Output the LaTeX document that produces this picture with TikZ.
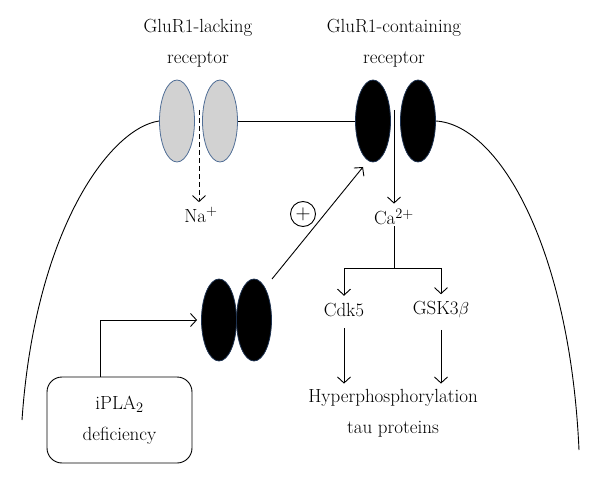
\documentclass[tikz,border=0pt]{standalone}
\usepackage{fontspec}
\usepackage{amsmath}
\usetikzlibrary{positioning, shapes.geometric, arrows.meta}

\begin{document}
\begin{tikzpicture}[x=1pt, y=-1pt, line width=0.9pt,
        lacking/.style={ellipse, draw={rgb,255:red,80;green,110;blue,150}, fill=gray!35, line width=0.8pt, inner sep=0mm, minimum width=35pt, minimum height=82pt},
        containing/.style={ellipse, draw={rgb,255:red,30;green,50;blue,80}, fill=black, line width=0.8pt, inner sep=0mm, minimum width=35pt, minimum height=82pt},
        txt/.style={font=\fontsize{19}{31}\selectfont, align=center, inner sep=1pt},
        arr/.style={-{Straight Barb[length=6pt, width=13pt]}}]
        \useasboundingbox (0,0) rectangle (600,484);
        % receptors on the membrane
        \node (lack1) [lacking] at (177,121) {};
        \node (lack2) [lacking] at (220,121) {};
        \node (cont1) [containing] at (373,121) {};
        \node (cont2) [containing] at (418,121) {};
        \node (pair1) [containing] at (219,320) {};
        \node (pair2) [containing] at (254,320) {};
        % labels
        \node (lacktitle) [txt] at (198,43) {GluR1-lacking\\receptor};
        \node (conttitle) [txt] at (394,43) {GluR1-containing\\receptor};
        \node (na) [txt] at (201,215) {Na$^+$};
        \node (ca) [txt] at (394,217) {Ca$^{2+}$};
        \node (plus) [circle, draw, inner sep=0mm, minimum size=25pt, font=\fontsize{22}{22}\selectfont] at (303,214) {$+$};
        \node (cdk) [txt] at (344,310) {Cdk5};
        \node (gsk) [txt] at (441,310) {GSK3$\beta$};
        \node (hyper) [txt] at (393,413) {Hyperphosphorylation\\tau proteins};
        \node (ipla) [txt, draw, rounded corners=15pt, minimum width=145pt, minimum height=86pt] at (119.5,420) {iPLA$_2$\\deficiency};
        \coordinate (nagap) at (199,110);
        \coordinate (cagap) at (394,110);
        \coordinate (split) at (394,268);
        \coordinate (diagstart) at (272,279);
        \coordinate (diagend) at (363,167);
        % membrane
        \draw (lack1.west) .. controls (110,128) and (35,230) .. (22,420);
        \draw (cont2.east) .. controls (500,125) and (570,250) .. (579,450);
        \draw (lack2.east) -- (cont1.west);
        % pathways
        \draw[arr, dash pattern=on 5pt off 3pt] (nagap) -- ([yshift=4pt]nagap |- na.north);
        \draw[arr] (cagap) -- ([yshift=4pt]ca.north);
        \draw (ca.south) -- (split);
        \draw[arr] (split) -| ([yshift=6pt]cdk.north);
        \draw[arr] (split) -| ([yshift=6pt]gsk.north);
        \draw[arr] ([yshift=-10pt]cdk.south) -- ([yshift=4pt]cdk.south |- hyper.north);
        \draw[arr] ([yshift=-10pt]gsk.south) -- ([yshift=4pt]gsk.south |- hyper.north);
        \draw[arr] (diagstart) -- (diagend);
        \draw[arr] ([xshift=-19.5pt]ipla.north) |- ([xshift=-4pt]pair1.west);
\end{tikzpicture}
\end{document}
